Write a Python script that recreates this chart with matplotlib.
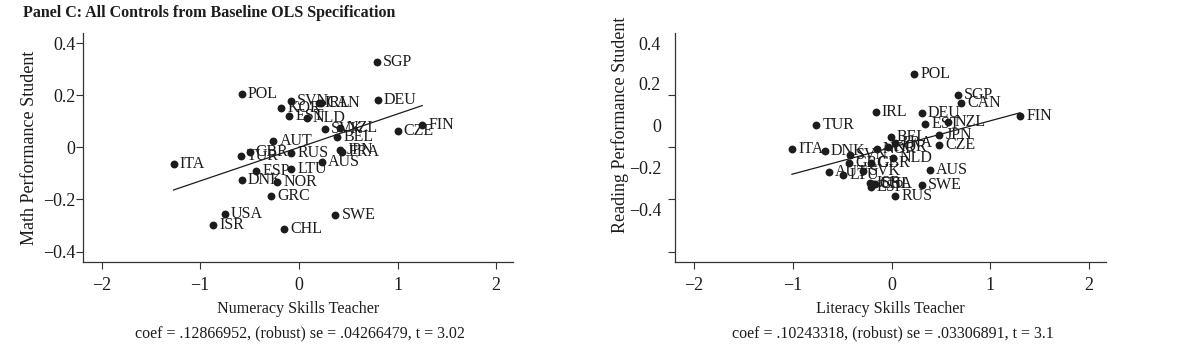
import matplotlib
matplotlib.use("Agg")
import matplotlib.pyplot as plt
import numpy as np

plt.rcParams['font.family'] = ['Liberation Serif', 'DejaVu Serif']

# ---------------- data: Panel C left (numeracy / math) ----------------
math_countries = ["SGP", "POL", "SVN", "KOR", "IRL", "CAN", "EST", "NLD", "DEU", "FIN",
                  "CZE", "SVK", "NZL", "BEL", "JPN", "FRA", "AUT", "GBR", "TUR", "RUS",
                  "AUS", "ITA", "ESP", "LTU", "DNK", "NOR", "GRC", "USA", "ISR", "CHL", "SWE"]
math_x = [0.79, -0.58, -0.08, -0.18, 0.20, 0.22, -0.10, 0.08, 0.80, 1.25,
          1.00, 0.26, 0.42, 0.39, 0.42, 0.44, -0.26, -0.50, -0.59, -0.08,
          0.23, -1.27, -0.43, -0.08, -0.58, -0.22, -0.28, -0.75, -0.87, -0.15, 0.37]
math_y = [0.327, 0.204, 0.180, 0.153, 0.170, 0.172, 0.121, 0.115, 0.182, 0.087,
          0.064, 0.069, 0.074, 0.040, -0.009, -0.018, 0.025, -0.017, -0.031, -0.022,
          -0.055, -0.064, -0.089, -0.083, -0.124, -0.134, -0.185, -0.257, -0.297, -0.313, -0.260]
math_coef = 0.12866952
math_intercept = 0.0
math_note = "coef = .12866952, (robust) se = .04266479, t = 3.02"

# ---------------- data: Panel C right (literacy / reading) ----------------
read_countries = ["POL", "SGP", "CAN", "IRL", "DEU", "FIN", "TUR", "EST", "NZL", "JPN",
                  "BEL", "CZE", "ITA", "DNK", "FRA", "KOR", "NOR", "SVN", "GRC", "GBR",
                  "NLD", "AUS", "AUT", "LTU", "SVK", "SWE", "ISR", "ESP", "USA", "CHL", "RUS"]
read_x = [0.23, 0.67, 0.705, -0.16, 0.305, 1.30, -0.76, 0.34, 0.576, 0.485,
          -0.01, 0.478, -1.007, -0.675, 0.04, -0.04, -0.15, -0.42, -0.43, -0.21,
          0.02, 0.39, -0.634, -0.49, -0.29, 0.305, -0.22, -0.21, -0.17, -0.19, 0.04]
read_y = [0.284, 0.200, 0.169, 0.138, 0.134, 0.121, 0.087, 0.089, 0.097, 0.048,
          0.039, 0.008, -0.005, -0.015, 0.018, 0.000, -0.005, -0.030, -0.059, -0.059,
          -0.042, -0.088, -0.094, -0.104, -0.092, -0.145, -0.137, -0.152, -0.140, -0.142, -0.185]
read_coef = 0.10243318
read_intercept = 0.0
read_note = "coef = .10243318, (robust) se = .03306891, t = 3.1"

x_ticks = [-2, -1, 0, 1, 2]
y_ticks = [0.4, 0.2, 0.0, -0.2, -0.4]
y_ticklabels = ["0.4", "0.2", "0", "\u22120.2", "\u22120.4"]
# tick-label positions as printed in the reference's right panel (offset from the tick marks)
read_ylabel_pos = [0.4, 0.245, 0.085, -0.077, -0.238]

title = "Panel C: All Controls from Baseline OLS Specification"

INK = "#1c1c1c"

fig = plt.figure(figsize=(12, 3.54), dpi=100)
fig.patch.set_facecolor("white")

axL = fig.add_axes([0.069, 0.260, 0.3585, 0.647])
axR = fig.add_axes([0.5625, 0.260, 0.3592, 0.647])


def style(ax):
    ax.set_xlim(-2.19, 2.17)
    ax.set_ylim(-0.44, 0.44)
    for s in ["top", "right"]:
        ax.spines[s].set_visible(False)
    for s in ["left", "bottom"]:
        ax.spines[s].set_color("#333333")
        ax.spines[s].set_linewidth(0.9)
    ax.set_xticks(x_ticks)
    ax.set_xticklabels(["\u22122", "\u22121", "0", "1", "2"])
    ax.tick_params(axis="both", which="both", direction="out", length=5, width=0.8,
                   color="#333333", labelsize=13, labelcolor=INK)
    ax.tick_params(axis="x", pad=6)


def draw(ax, xs, ys, names, coef, intercept):
    ax.scatter(xs, ys, s=32, color=INK, zorder=3, linewidths=0)
    for x, y, n in zip(xs, ys, names):
        ax.annotate(n, (x, y), xytext=(4.5, 0), textcoords="offset points",
                    ha="left", va="center", fontsize=11.5, color=INK, zorder=4)
    lx = np.array([min(xs), max(xs)])
    ax.plot(lx, intercept + coef * lx, color=INK, lw=0.9, zorder=2)


# left panel
style(axL)
draw(axL, math_x, math_y, math_countries, math_coef, math_intercept)
axL.set_yticks(y_ticks)
axL.set_yticklabels(y_ticklabels)
axL.tick_params(axis="y", pad=0.5)
axL.set_xlabel("Numeracy Skills Teacher", fontsize=11.6, color=INK, labelpad=5)
axL.set_ylabel("Math Performance Student", fontsize=13, color=INK)
axL.yaxis.set_label_coords(-0.104, 0.5)
axL.text(0.505, -0.31, math_note, transform=axL.transAxes, ha="center", va="center",
         fontsize=11.5, color=INK)

# right panel
style(axR)
draw(axR, read_x, read_y, read_countries, read_coef, read_intercept)
axR.set_yticks(read_ylabel_pos)
axR.set_yticklabels(y_ticklabels)
axR.tick_params(axis="y", which="major", length=0, pad=10)
axR.set_yticks(y_ticks, minor=True)
axR.tick_params(axis="y", which="minor", length=5, width=0.8, color="#333333")
axR.set_xlabel("Literacy Skills Teacher", fontsize=11.6, color=INK, labelpad=5)
axR.set_ylabel("Reading Performance Student", fontsize=13, color=INK)
axR.yaxis.set_label_coords(-0.106, 0.598)
axR.text(0.505, -0.31, read_note, transform=axR.transAxes, ha="center", va="center",
         fontsize=11.5, color=INK)

fig.text(0.019, 0.962, title, ha="left", va="center", fontsize=11.5, fontweight="bold",
         color=INK)

fig.savefig("out.png", dpi=100, facecolor="white")
